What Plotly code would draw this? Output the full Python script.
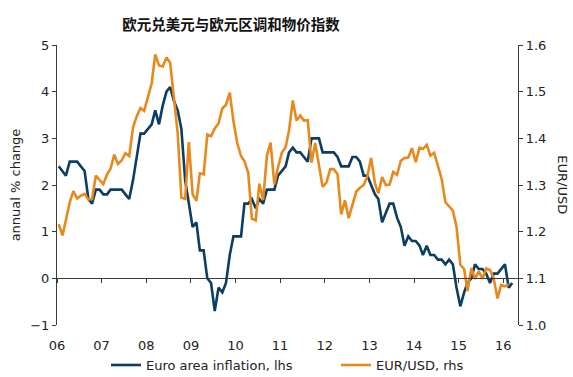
import pandas as pd
import plotly.graph_objects as go

# ---- data ----
inflation = [
    2.4, 2.3, 2.2, 2.5, 2.5, 2.5, 2.4, 2.3, 1.7, 1.6, 1.9, 1.9,   # 2006
    1.8, 1.8, 1.9, 1.9, 1.9, 1.9, 1.8, 1.7, 2.1, 2.6, 3.1, 3.1,   # 2007
    3.2, 3.3, 3.6, 3.3, 3.7, 4.0, 4.1, 3.8, 3.6, 3.2, 2.1, 1.6,   # 2008
    1.1, 1.2, 0.6, 0.6, 0.0, -0.1, -0.7, -0.2, -0.3, -0.1, 0.5, 0.9,  # 2009
    0.9, 0.9, 1.6, 1.6, 1.7, 1.5, 1.7, 1.6, 1.9, 1.9, 1.9, 2.2,   # 2010
    2.3, 2.4, 2.7, 2.8, 2.7, 2.7, 2.6, 2.5, 3.0, 3.0, 3.0, 2.7,   # 2011
    2.7, 2.7, 2.7, 2.6, 2.4, 2.4, 2.4, 2.6, 2.6, 2.5, 2.2, 2.2,   # 2012
    2.0, 1.8, 1.7, 1.2, 1.4, 1.6, 1.6, 1.3, 1.1, 0.7, 0.9, 0.8,   # 2013
    0.8, 0.7, 0.5, 0.7, 0.5, 0.5, 0.4, 0.4, 0.3, 0.4, 0.3, -0.2,  # 2014
    -0.6, -0.3, -0.1, 0.0, 0.3, 0.2, 0.2, 0.1, -0.1, 0.1, 0.1, 0.2,  # 2015
    0.3, -0.2, -0.1,                                              # 2016
]
eurusd = [
    1.216, 1.192, 1.225, 1.263, 1.287, 1.271, 1.277, 1.281, 1.269, 1.270, 1.320, 1.312,  # 2006
    1.302, 1.323, 1.335, 1.365, 1.345, 1.353, 1.368, 1.362, 1.423, 1.447, 1.465, 1.459,  # 2007
    1.486, 1.518, 1.580, 1.556, 1.554, 1.573, 1.562, 1.485, 1.410, 1.273, 1.270, 1.392,  # 2008
    1.280, 1.266, 1.325, 1.323, 1.408, 1.405, 1.421, 1.432, 1.464, 1.472, 1.498, 1.437,  # 2009
    1.390, 1.362, 1.351, 1.326, 1.228, 1.224, 1.303, 1.268, 1.363, 1.391, 1.301, 1.338,  # 2010
    1.369, 1.381, 1.417, 1.481, 1.438, 1.449, 1.438, 1.439, 1.348, 1.390, 1.345, 1.296,  # 2011
    1.305, 1.334, 1.334, 1.323, 1.237, 1.267, 1.229, 1.258, 1.286, 1.294, 1.300, 1.319,  # 2012
    1.358, 1.304, 1.282, 1.317, 1.300, 1.301, 1.328, 1.322, 1.352, 1.358, 1.359, 1.379,  # 2013
    1.349, 1.380, 1.377, 1.386, 1.363, 1.369, 1.339, 1.313, 1.263, 1.253, 1.245, 1.210,  # 2014
    1.129, 1.120, 1.073, 1.122, 1.099, 1.115, 1.099, 1.121, 1.118, 1.100, 1.057, 1.086,  # 2015
    1.083, 1.087,                                                                        # 2016
]
years = list(range(2006, 2017))
year_labels = ["06", "07", "08", "09", "10", "11", "12", "13", "14", "15", "16"]

title_text = "欧元兑美元与欧元区调和物价指数"
name_infl = "Euro area inflation, lhs"
name_fx = "EUR/USD, rhs"

dates_infl = pd.date_range("2006-01-01", periods=len(inflation), freq="MS") + pd.Timedelta(days=14)
dates_fx = pd.date_range("2006-01-01", periods=len(eurusd), freq="MS") + pd.Timedelta(days=14)
tick_dates = [pd.Timestamp(f"{y}-01-01") for y in years]

BLUE = "#0c3d63"
ORANGE = "#e8891e"
AX = "#3a3a3a"
TXT = "#222222"
FONT = "DejaVu Sans"
FS = 13

fig = go.Figure()
# invisible trace to activate the zero-line axis (x2)
fig.add_trace(go.Scatter(x=dates_infl, y=inflation, xaxis="x2", yaxis="y", mode="none",
                         showlegend=False, hoverinfo="skip"))
fig.add_trace(go.Scatter(x=dates_infl, y=inflation, name=name_infl, mode="lines",
                         line=dict(color=BLUE, width=2.6), yaxis="y", legend="legend"))
fig.add_trace(go.Scatter(x=dates_fx, y=eurusd, name=name_fx, mode="lines",
                         line=dict(color=ORANGE, width=2.6), yaxis="y2", legend="legend2"))

xr = ["2006-01-01", "2016-05-01"]
leg_common = dict(orientation="h", y=-0.143, yanchor="middle", xanchor="left",
                  font=dict(size=13, color=TXT), bgcolor="rgba(0,0,0,0)", itemwidth=30)
fig.update_layout(
    width=573, height=377,
    margin=dict(l=57, r=55, t=45, b=52, autoexpand=False),
    paper_bgcolor="white", plot_bgcolor="white",
    font=dict(family=FONT, size=FS, color=TXT),
    title=dict(text="<b>" + title_text + "</b>", x=231 / 573, xanchor="center",
               y=1 - 25 / 377, yanchor="middle", automargin=False,
               font=dict(family="Noto Sans CJK SC", size=14.5, color="#111")),
    xaxis=dict(type="date", range=xr, tickvals=tick_dates, ticktext=year_labels,
               showline=False, showgrid=False, zeroline=False, automargin=False,
               ticks="outside", ticklen=8, tickcolor="rgba(0,0,0,0)",
               tickfont=dict(size=FS, color=TXT)),
    xaxis2=dict(type="date", overlaying="x", matches="x", anchor="free", position=1 / 6,
                tickvals=tick_dates, showticklabels=False, showgrid=False, zeroline=False,
                showline=True, linecolor=AX, linewidth=1, automargin=False,
                ticks="outside", ticklen=4, tickcolor=AX),
    yaxis=dict(range=[-1, 5], dtick=1, showgrid=False, zeroline=False, automargin=False,
               showline=True, linecolor=AX, linewidth=1.2,
               ticks="outside", ticklen=4, tickcolor=AX,
               title=dict(text="annual % change", font=dict(size=FS, color=TXT), standoff=6),
               tickfont=dict(size=FS, color=TXT)),
    yaxis2=dict(range=[1.0, 1.6], dtick=0.1, tickformat=".1f", overlaying="y", side="right",
                showgrid=False, zeroline=False, showline=True, linecolor=AX, linewidth=1.2,
                ticks="outside", ticklen=4, tickcolor=AX, automargin=False,
                tickfont=dict(size=FS, color=TXT)),
    legend=dict(x=(106 - 57) / 461, **leg_common),
    legend2=dict(x=(336 - 57) / 461, **leg_common),
    annotations=[dict(text="EUR/USD", xref="paper", yref="paper", x=1.097, y=0.5,
                      textangle=90, showarrow=False, font=dict(size=FS, color=TXT),
                      xanchor="center", yanchor="middle")],
)

fig.write_html("out.html", config={"displayModeBar": False},
               post_script="document.body.style.margin='0';document.body.style.overflow='hidden';")
